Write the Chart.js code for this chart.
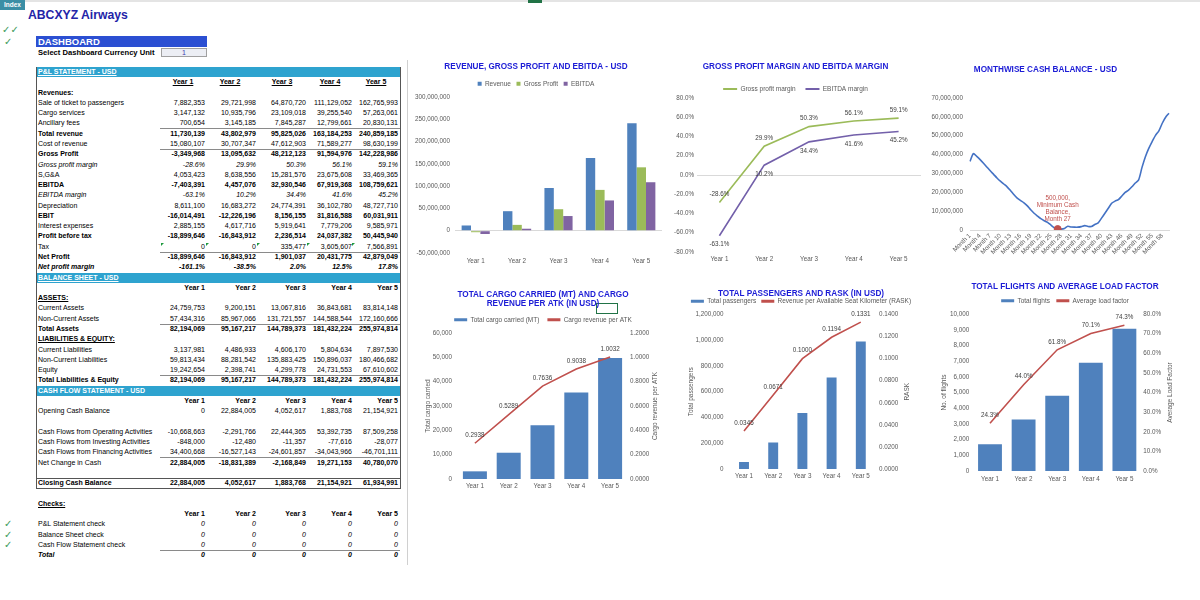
<!DOCTYPE html>
<html>
<head>
<meta charset="utf-8">
<script src="https://cdn.jsdelivr.net/npm/chart.js@4.4.1/dist/chart.umd.min.js"></script>
<style>
  body { margin: 0; width: 1200px; height: 600px; background: #fff; position: relative; overflow: hidden;
         font-family: "Liberation Sans", Arial, sans-serif; }
  .abs { position: absolute; white-space: nowrap; }
  .c { position: absolute; height: 10.28px; line-height: 10.28px; font-size: 7px; white-space: nowrap; color: #000; }
  canvas { position: absolute; }
</style>
</head>
<body>
<div class="abs" style="left:0;top:0;width:1200px;height:2px;background:#e4e4e4"></div>
<div class="abs" style="left:528px;top:0;width:14px;height:3px;background:#217346"></div>
<div class="abs" style="left:0;top:0;width:25px;height:10px;background:#3b8ea5;color:#fff;font-size:6.5px;font-weight:bold;line-height:10px;text-align:center">Index</div>
<div class="abs" style="left:28px;top:8px;font-size:12.2px;font-weight:bold;color:#2323a8">ABCXYZ Airways</div>
<div class="abs" style="left:2px;top:24px;font-size:10px;color:#3a9a5a;font-family:'DejaVu Sans'">✓✓</div>
<div class="abs" style="left:4px;top:36px;font-size:10px;color:#3a9a5a;font-family:'DejaVu Sans'">✓</div>
<div class="abs" style="left:36px;top:36px;width:171px;height:11px;background:#2b4fd2;color:#fff;font-size:9.5px;font-weight:bold;line-height:11px;padding-left:2px;box-sizing:border-box">DASHBOARD</div>
<div class="abs" style="left:38px;top:48px;font-size:7.6px;font-weight:bold;line-height:9px">Select Dashboard Currency Unit</div>
<div class="abs" style="left:161px;top:48px;width:46px;height:9px;background:#eceef4;border:1px solid #a0a0a0;box-sizing:border-box;font-size:7px;line-height:8px;text-align:center;color:#4040b0">1</div>
<div class="abs" style="left:407px;top:60px;width:1px;height:505px;background:#d0d0d0"></div>
<div id="sheet"></div>
<div class="abs" style="left:596px;top:303px;width:22px;height:11px;border:1px solid #217346;box-sizing:border-box"></div>

<canvas id="c1" width="268" height="215" style="left:410px;top:58px"></canvas>
<canvas id="c2" width="252" height="215" style="left:670px;top:58px"></canvas>
<canvas id="c3" width="265" height="215" style="left:922px;top:58px"></canvas>
<canvas id="c4" width="266" height="215" style="left:410px;top:283px"></canvas>
<canvas id="c5" width="258" height="215" style="left:672px;top:283px"></canvas>
<canvas id="c6" width="250" height="215" style="left:940px;top:283px"></canvas>

<script>
const years = ['Year 1', 'Year 2', 'Year 3', 'Year 4', 'Year 5'];

// P&L statement
const saleOfTickets = [7882353, 29721998, 64870720, 111129052, 162765993];
const cargoServices = [3147132, 10935796, 23109018, 39255540, 57263061];
const ancillaryFees = [700654, 3145185, 7845287, 12799661, 20830131];
const totalRevenue = [11730139, 43802979, 95825026, 163184253, 240859185];
const costOfRevenue = [15080107, 30707347, 47612903, 71589277, 98630199];
const grossProfit = [-3349968, 13095632, 48212123, 91594976, 142228986];
const grossMargin = [-28.6, 29.9, 50.3, 56.1, 59.1];
const sga = [4053423, 8638556, 15281576, 23675608, 33469365];
const ebitda = [-7403391, 4457076, 32930546, 67919368, 108759621];
const ebitdaMargin = [-63.1, 10.2, 34.4, 41.6, 45.2];
const depreciation = [8611100, 16683272, 24774391, 36102780, 48727710];
const ebit = [-16014491, -12226196, 8156155, 31816588, 60031911];
const interestExp = [2885155, 4617716, 5919641, 7779206, 9585971];
const profitBeforeTax = [-18899646, -16843912, 2236514, 24037382, 50445940];
const tax = [0, 0, 335477, 3605607, 7566891];
const netProfit = [-18899646, -16843912, 1901037, 20431775, 42879049];
const netMargin = [-161.1, -38.5, 2.0, 12.5, 17.8];

// Balance sheet
const currentAssets = [24759753, 9200151, 13067816, 36843681, 83814148];
const nonCurrentAssets = [57434316, 85967066, 131721557, 144588544, 172160666];
const totalAssets = [82194069, 95167217, 144789373, 181432224, 255974814];
const currentLiab = [3137981, 4486933, 4606170, 5804634, 7897530];
const nonCurrentLiab = [59813434, 88281542, 135883425, 150896037, 180466682];
const equity = [19242654, 2398741, 4299778, 24731553, 67610602];
const totalLiabEquity = [82194069, 95167217, 144789373, 181432224, 255974814];

// Cash flow
const openingCash = [0, 22884005, 4052617, 1883768, 21154921];
const cfOperating = [-10668663, -2291766, 22444365, 53392735, 87509258];
const cfInvesting = [-848000, -12480, -11357, -77616, -28077];
const cfFinancing = [34400668, -16527143, -24601857, -34043966, -46701111];
const netChangeCash = [22884005, -18831389, -2168849, 19271153, 40780070];
const closingCash = [22884005, 4052617, 1883768, 21154921, 61934991];
const checkValues = [0, 0, 0, 0, 0];

// operating charts
const cargoCarried = [3150, 10800, 22050, 35600, 49700];
const cargoRevPerAtk = [0.2938, 0.5289, 0.7636, 0.9038, 1.0032];
const passengers = [54000, 206000, 434000, 710000, 991000];
const rask = [0.0345, 0.0671, 0.1000, 0.1194, 0.1331];
const flights = [1700, 3290, 4800, 6900, 9070];
const loadFactor = [24.3, 44.0, 61.8, 70.1, 74.3];

// monthly cash balance
const monthLabels = Array.from({length: 60}, (_, i) => 'Month ' + (i + 1));
const monthlyCash = [
  36400000, 40500000, 39000000, 37300000, 35400000, 33400000, 31400000, 29500000, 27600000, 25900000,
  24400000, 22884005, 20900000, 18800000, 16900000, 15600000, 14400000, 12800000, 10700000, 8900000,
  7400000, 6000000, 4900000, 4052617, 2600000, 1200000, 500000, 450000, 800000, 2000000,
  1600000, 1500000, 1500000, 1800000, 2300000, 1883768, 1850000, 2900000, 3800000, 6300000,
  8900000, 11500000, 14200000, 15300000, 16100000, 18000000, 19900000, 21154921, 22900000, 24900000,
  26600000, 33200000, 38900000, 43300000, 46900000, 50200000, 52600000, 56600000, 59800000, 61934991
];
const minCashMonth = 27;
const minCashValue = 500000;

// ---------- spreadsheet part ----------
const T0 = 67, RH = 10.28;
const valRight = [205, 256, 306, 352, 398];
const headMid = [183, 230, 282, 330, 376];
const sheet = document.getElementById('sheet');
const num = v => v.toLocaleString('en-US');
const pct = v => v.toFixed(1) + '%';

function cell(text, left, top, css) {
  const d = document.createElement('div');
  d.className = 'c';
  d.textContent = text;
  d.style.cssText = 'left:' + left + 'px;top:' + top + 'px;' + (css || '');
  sheet.appendChild(d);
  return d;
}

const rows = [
  {band: 'P&L STATEMENT - USD', u: true},
  {years: 'mid'},
  {label: 'Revenues:', lb: true},
  {label: 'Sale of ticket to passengers', vals: saleOfTickets},
  {label: 'Cargo services', vals: cargoServices},
  {label: 'Ancillary fees', vals: ancillaryFees, line: true},
  {label: 'Total revenue', vals: totalRevenue, lb: true, vb: true},
  {label: 'Cost of revenue', vals: costOfRevenue, line: true},
  {label: 'Gross Profit', vals: grossProfit, lb: true, vb: true},
  {label: 'Gross profit margin', vals: grossMargin, pct: true, it: true},
  {label: 'S,G&A', vals: sga},
  {label: 'EBITDA', vals: ebitda, lb: true, vb: true},
  {label: 'EBITDA margin', vals: ebitdaMargin, pct: true, it: true},
  {label: 'Depreciation', vals: depreciation},
  {label: 'EBIT', vals: ebit, lb: true, vb: true},
  {label: 'Interest expenses', vals: interestExp},
  {label: 'Profit before tax', vals: profitBeforeTax, lb: true, vb: true},
  {label: 'Tax', vals: tax, line: true, flags: true},
  {label: 'Net Profit', vals: netProfit, lb: true, vb: true},
  {label: 'Net profit margin', vals: netMargin, pct: true, it: true, lb: true, vb: true},
  {band: 'BALANCE SHEET - USD', u: true},
  {years: 'right'},
  {label: 'ASSETS:', lb: true, lu: true},
  {label: 'Current Assets', vals: currentAssets},
  {label: 'Non-Current Assets', vals: nonCurrentAssets, line: true},
  {label: 'Total Assets', vals: totalAssets, lb: true, vb: true},
  {label: 'LIABILITIES & EQUITY:', lb: true, lu: true},
  {label: 'Current Liabilities', vals: currentLiab},
  {label: 'Non-Current Liabilities', vals: nonCurrentLiab},
  {label: 'Equity', vals: equity, line: true},
  {label: 'Total Liabilities & Equity', vals: totalLiabEquity, lb: true, vb: true},
  {band: 'CASH FLOW STATEMENT - USD'},
  {years: 'right'},
  {label: 'Opening Cash Balance', vals: openingCash},
  null,
  {label: 'Cash Flows from Operating Activities', vals: cfOperating},
  {label: 'Cash Flows from Investing Activities', vals: cfInvesting},
  {label: 'Cash Flows from Financing Activities', vals: cfFinancing, line: true},
  {label: 'Net Change in Cash', vals: netChangeCash, vb: true},
  null,
  {label: 'Closing Cash Balance', vals: closingCash, lb: true, vb: true},
  null,
  {label: 'Checks:', lb: true, lu: true},
  {years: 'right'},
  {label: 'P&L Statement check', vals: checkValues, it: true, tick: true},
  {label: 'Balance Sheet check', vals: checkValues, it: true, tick: true},
  {label: 'Cash Flow Statement check', vals: checkValues, it: true, tick: true, line: true},
  {label: 'Total', vals: checkValues, it: true, lb: true, vb: true}
];

// frame round the statements
const frame = document.createElement('div');
frame.className = 'abs';
frame.style.cssText = 'left:36px;top:' + T0 + 'px;width:365px;height:' + (41 * RH + 1) + 'px;border:1px solid #555;box-sizing:border-box';
sheet.appendChild(frame);
const closeLine = document.createElement('div');
closeLine.className = 'abs';
closeLine.style.cssText = 'left:36px;top:' + (T0 + 40 * RH) + 'px;width:365px;height:1px;background:#555';
sheet.appendChild(closeLine);

rows.forEach((r, i) => {
  if (!r) return;
  const top = T0 + i * RH;
  if (r.band) {
    cell('', 37, top, 'width:363px;background:#2ea3cf');
    cell(r.band, 38, top, 'color:#fff;font-weight:bold;' + (r.u ? 'text-decoration:underline' : ''));
    return;
  }
  if (r.years) {
    years.forEach((y, k) => {
      if (r.years === 'mid') cell(y, headMid[k] - 20, top, 'width:40px;text-align:center;font-weight:bold;text-decoration:underline');
      else cell(y, valRight[k] - 40, top, 'width:40px;text-align:right;font-weight:bold');
    });
    return;
  }
  let css = '';
  if (r.lb) css += 'font-weight:bold;';
  if (r.it && (r.lb || r.pct)) css += 'font-style:italic;';
  if (r.lu) css += 'text-decoration:underline;';
  cell(r.label, 38, top, css);
  if (r.tick) {
    cell('✓', 4, top, 'color:#3a9a5a;font-size:10px;font-family:"DejaVu Sans"');
  }
  if (r.vals) {
    r.vals.forEach((v, k) => {
      let vcss = 'width:60px;text-align:right;';
      if (r.vb) vcss += 'font-weight:bold;';
      if (r.it) vcss += 'font-style:italic;';
      cell(r.pct ? pct(v) : num(v), valRight[k] - 60, top, vcss);
    });
  }
  if (r.flags) {
    [161, 206, 257, 307, 352].forEach(x => {
      const f = document.createElement('div');
      f.className = 'abs';
      f.style.cssText = 'left:' + x + 'px;top:' + (top + 1) + 'px;width:0;height:0;border-top:3px solid #1e9a3e;border-right:3px solid transparent';
      sheet.appendChild(f);
    });
  }
  if (r.line) {
    const l = document.createElement('div');
    l.className = 'abs';
    l.style.cssText = 'left:160px;top:' + (top + RH - 0.5) + 'px;width:240px;height:1px;background:#8a8a8a';
    sheet.appendChild(l);
  }
});

// ---------- charts ----------
Chart.defaults.font.family = '"Liberation Sans", Arial, sans-serif';
Chart.defaults.font.size = 6.3;
Chart.defaults.color = '#595959';
Chart.defaults.animation = false;
Chart.defaults.responsive = false;
Chart.defaults.maintainAspectRatio = false;
Chart.defaults.devicePixelRatio = 1;
Chart.defaults.plugins.tooltip.enabled = false;

const BLUE = '#4f81bd', GREEN = '#9bbb59', PURPLE = '#8064a2', RED = '#c0504d', LINEBLUE = '#4472c4';

// draws value labels next to points
const valueLabels = {
  id: 'valueLabels',
  afterDatasetsDraw(chart) {
    const ctx = chart.ctx;
    chart.data.datasets.forEach((ds, i) => {
      const lb = ds.valueLabel;
      if (!lb) return;
      chart.getDatasetMeta(i).data.forEach((pt, j) => {
        const v = ds.data[j];
        if (v === null || v === undefined) return;
        const lines = [].concat(lb.text(v));
        ctx.save();
        ctx.font = '6.3px "Liberation Sans", Arial, sans-serif';
        ctx.fillStyle = lb.color || '#404040';
        ctx.textAlign = 'center';
        ctx.textBaseline = 'middle';
        lines.forEach((s, k) => ctx.fillText(s, pt.x + (lb.dx || 0), pt.y + lb.dy - (lines.length - 1 - k) * 7.3));
        ctx.restore();
      });
    });
  }
};

// secondary axis title, written bottom to top like the sheet does
const sideTitle = {
  id: 'sideTitle',
  afterDraw(chart, args, opts) {
    if (!opts || !opts.text) return;
    const {ctx, chartArea} = chart;
    ctx.save();
    ctx.translate(chartArea.right + opts.dx, (chartArea.top + chartArea.bottom) / 2);
    ctx.rotate(-Math.PI / 2);
    ctx.font = '6.5px "Liberation Sans", Arial, sans-serif';
    ctx.fillStyle = '#595959';
    ctx.textAlign = 'center';
    ctx.textBaseline = 'middle';
    ctx.fillText(opts.text, 0, 0);
    ctx.restore();
  }
};

function titleOpt(text, pt, pb, lh) {
  return {display: true, text: text, color: '#1c1cd6', font: {size: 8.2, weight: 'bold', lineHeight: lh}, padding: {top: pt, bottom: pb}};
}
const flatLabels = c => Chart.defaults.plugins.legend.labels.generateLabels(c).map(l => Object.assign(l, {lineWidth: 0}));
function legendOpt(bw, bh, pad, maxH, reverse) {
  return {display: true, position: 'top', reverse: !!reverse, maxHeight: maxH,
    labels: {boxWidth: bw, boxHeight: bh, padding: pad, color: '#595959', font: {size: 6.5}, generateLabels: flatLabels}};
}
const zeroLine = c => (c.tick && c.tick.value === 0) ? '#d9d9d9' : 'rgba(0,0,0,0)';
const noGrid = {display: false, drawTicks: false};

// 1. revenue, gross profit, EBITDA
new Chart(document.getElementById('c1'), {
  type: 'bar',
  data: {
    labels: years,
    datasets: [
      {label: 'Revenue', data: totalRevenue, backgroundColor: BLUE},
      {label: 'Gross Profit', data: grossProfit, backgroundColor: GREEN},
      {label: 'EBITDA', data: ebitda, backgroundColor: PURPLE}
    ]
  },
  options: {
    layout: {padding: {left: 0, right: 16, top: 0, bottom: 0}},
    datasets: {bar: {categoryPercentage: 0.68, barPercentage: 1}},
    plugins: {
      title: titleOpt('REVENUE, GROSS PROFIT AND EBITDA - USD', 4.08, 3, 1.2),
      legend: legendOpt(4, 4, 5.58)
    },
    scales: {
      x: {grid: noGrid, border: {display: false}, ticks: {padding: 4}, afterFit: s => { s.height = 20; }},
      y: {min: -50000000, max: 300000000, grid: {color: zeroLine, drawTicks: false}, border: {display: false},
          ticks: {stepSize: 50000000, padding: 5, callback: v => num(v)}, afterFit: s => { s.width = 45; }}
    }
  }
});

// 2. margins
new Chart(document.getElementById('c2'), {
  type: 'line',
  data: {
    labels: years,
    datasets: [
      {label: 'Gross profit margin', data: grossMargin, borderColor: GREEN, backgroundColor: GREEN, borderWidth: 1.6,
       pointRadius: 0, valueLabel: {text: pct, dy: -8}},
      {label: 'EBITDA margin', data: ebitdaMargin, borderColor: '#7360aa', backgroundColor: '#7360aa', borderWidth: 1.6,
       pointRadius: 0, valueLabel: {text: pct, dy: 9}}
    ]
  },
  options: {
    layout: {padding: {left: 0, right: 1, top: 0, bottom: 0}},
    plugins: {
      title: titleOpt('GROSS PROFIT MARGIN AND EBITDA MARGIN', 4.08, 4, 1.2),
      legend: legendOpt(14, 2, 9.83, 22.08)
    },
    scales: {
      x: {offset: true, grid: noGrid, border: {display: false}, ticks: {padding: 3}, afterFit: s => { s.height = 21; }},
      y: {min: -80, max: 80, grid: {color: zeroLine, drawTicks: false}, border: {display: false},
          ticks: {stepSize: 20, padding: 3, callback: v => v.toFixed(1) + '%'}, afterFit: s => { s.width = 27; }}
    }
  },
  plugins: [valueLabels]
});

// 3. monthly cash balance
new Chart(document.getElementById('c3'), {
  type: 'line',
  data: {
    labels: monthLabels,
    datasets: [
      {label: 'Minimum Cash Balance', data: monthLabels.map((m, i) => i === minCashMonth - 1 ? minCashValue : null),
       showLine: false, pointRadius: 3.5, pointBackgroundColor: RED, pointBorderColor: RED,
       valueLabel: {text: v => [num(v) + ',', 'Minimum Cash', 'Balance,', 'Month ' + minCashMonth], dy: -9.3, color: RED}},
      {label: 'Cash balance', data: monthlyCash, borderColor: LINEBLUE, borderWidth: 1.6, pointRadius: 0, tension: 0.25}
    ]
  },
  options: {
    layout: {padding: {left: 0, right: 18, top: 0, bottom: 0}},
    plugins: {
      title: titleOpt('MONTHWISE CASH BALANCE - USD', 7.08, 23.08, 1.2),
      legend: {display: false}
    },
    scales: {
      x: {grid: noGrid, border: {display: true, color: '#d9d9d9'},
          ticks: {autoSkip: false, maxRotation: 45, minRotation: 45, padding: 2,
                  callback: (v, i) => i % 3 === 0 ? monthLabels[i] : ''},
          afterFit: s => { s.height = 43; }},
      y: {min: 0, max: 70000000, grid: noGrid, border: {display: false},
          ticks: {stepSize: 10000000, padding: 7, callback: v => num(v)}, afterFit: s => { s.width = 48; }}
    }
  },
  plugins: [valueLabels]
});

// bar + line combo with two axes
function comboChart(id, o) {
  return new Chart(document.getElementById(id), {
    type: 'bar',
    data: {
      labels: years,
      datasets: [
        {type: 'line', label: o.lineLabel, data: o.lineData, yAxisID: 'y1', borderColor: RED, backgroundColor: RED,
         borderWidth: 1.6, pointRadius: 0, valueLabel: {text: o.lineFmt, dy: -8}},
        {label: o.barLabel, data: o.barData, yAxisID: 'y', backgroundColor: BLUE,
         categoryPercentage: o.barPct, barPercentage: 1}
      ]
    },
    options: {
      layout: {padding: 0},
      plugins: {
        title: titleOpt(o.title, o.tpt, o.tpb, o.tlh),
        legend: legendOpt(13, 3, o.lpad, undefined, true),
        sideTitle: {text: o.y1Title, dx: o.sideDx}
      },
      scales: {
        x: {grid: noGrid, border: {display: false}, ticks: {padding: o.xPad}, afterFit: s => { s.height = o.xH; }},
        y: {position: 'left', min: 0, max: o.yMax, grid: noGrid, border: {display: false},
            title: {display: true, text: o.yTitle, font: {size: 6.5}, padding: {top: o.yTitlePad, bottom: 0}},
            ticks: {stepSize: o.yStep, padding: o.yPad, callback: v => num(v)}, afterFit: s => { s.width = o.yW; }},
        y1: {position: 'right', min: 0, max: o.y1Max, grid: noGrid, border: {display: false},
             ticks: {stepSize: o.y1Step, padding: o.y1Pad, callback: o.y1Fmt}, afterFit: s => { s.width = o.y1W; }}
      }
    },
    plugins: [valueLabels, sideTitle]
  });
}

// 4. cargo
comboChart('c4', {
  title: ['TOTAL CARGO CARRIED (MT) AND CARGO', 'REVENUE PER ATK (IN USD)'], tpt: 7.5, tpb: 0, tlh: 1.1, lpad: 8,
  barLabel: 'Total cargo carried (MT)', barData: cargoCarried, barPct: 0.71,
  lineLabel: 'Cargo revenue per ATK', lineData: cargoRevPerAtk, lineFmt: v => v.toFixed(4),
  yMax: 60000, yStep: 10000, yW: 48, yPad: 6, yTitle: 'Total cargo carried', yTitlePad: 14.1,
  y1Max: 1.2, y1Step: 0.2, y1W: 49, y1Pad: 3, y1Fmt: v => v.toFixed(4), y1Title: 'Cargo revenue per ATK', sideDx: 28,
  xH: 19, xPad: 3
});

// 5. passengers
comboChart('c5', {
  title: 'TOTAL PASSENGERS AND RASK (IN USD)', tpt: 6.4, tpb: -4.6, tlh: 1.0, lpad: 5,
  barLabel: 'Total passengers', barData: passengers, barPct: 0.34,
  lineLabel: 'Revenue per Available Seat Kilometer (RASK)', lineData: rask, lineFmt: v => v.toFixed(4),
  yMax: 1200000, yStep: 200000, yW: 57.4, yPad: 6, yTitle: 'Total passengers', yTitlePad: 15.1,
  y1Max: 0.14, y1Step: 0.02, y1W: 54.6, y1Pad: 3.6, y1Fmt: v => v.toFixed(4), y1Title: 'RASK', sideDx: 31.6,
  xH: 29, xPad: 3.5
});

// 6. flights
comboChart('c6', {
  title: 'TOTAL FLIGHTS AND AVERAGE LOAD FACTOR', tpt: 0, tpb: 0, tlh: 1.0, lpad: 6.4,
  barLabel: 'Total flights', barData: flights, barPct: 0.71,
  lineLabel: 'Average load factor', lineData: loadFactor, lineFmt: pct,
  yMax: 10000, yStep: 1000, yW: 33.2, yPad: 4, yTitle: 'No. of flights', yTitlePad: 0.1,
  y1Max: 80, y1Step: 10, y1W: 48.8, y1Pad: 2, y1Fmt: v => v.toFixed(1) + '%', y1Title: 'Average Load Factor', sideDx: 28.8,
  xH: 27, xPad: 4.1
});
</script>
</body>
</html>
